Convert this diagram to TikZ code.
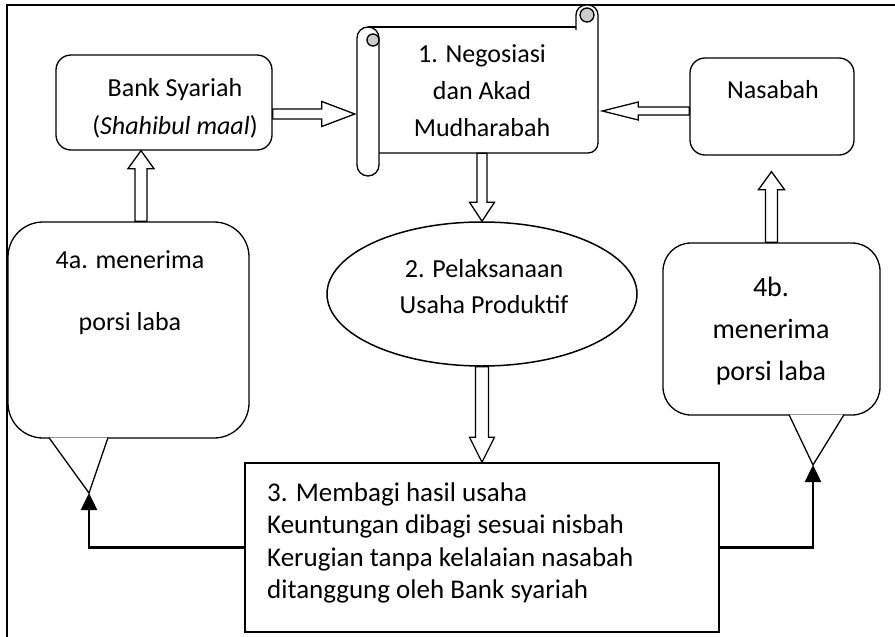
\documentclass[tikz,border=0pt]{standalone}
\usepackage{fontspec}
\setmainfont{Carlito}
\usetikzlibrary{calc,arrows.meta,shapes.geometric}

% hollow block arrow: [shaft half width]{head length}{head half width}{from}{to}
\newcommand{\fatarrow}[5][5pt]{%
  \coordinate (fa-b) at ($(#5)!#2!(#4)$);
  \draw[fatline] ($(#4)!#1!90:(#5)$) -- ($(fa-b)!#1!90:(#5)$) -- ($(fa-b)!#3!90:(#5)$) -- (#5)
    -- ($(fa-b)!#3!-90:(#5)$) -- ($(fa-b)!#1!-90:(#5)$) -- ($(#4)!#1!-90:(#5)$) -- cycle;
}

\begin{document}
\begin{tikzpicture}[x=1pt,y=-1pt,
		shapeline/.style={draw, line width=1.3pt},
		roundbox/.style={shapeline, rectangle, rounded corners=15pt, inner sep=0pt},
		plainbox/.style={shapeline, rectangle, inner sep=0pt},
		callbody/.style={shapeline, rectangle, inner sep=0pt},
		fatline/.style={draw, line width=1.3pt, fill=white, line join=miter},
		conn/.style={draw, line width=2.5pt, -{Triangle[width=16pt,length=17pt]}},
		bigtxt/.style={font=\fontsize{26}{37}\selectfont, align=center, inner sep=0pt}]
	\useasboundingbox (0,0) rectangle (895,637);
	% frame
	\draw[line width=2pt] (7,640) -- (7,5) -- (898,5);

	% scroll
	\draw[shapeline, fill=white, rounded corners=10pt] (576,30) -- (576,5) -- (598,5) -- (598,153) -- (379,153);
	\draw[shapeline] (368,27) -- (576,27);
	\filldraw[shapeline, fill=gray!40] (587,15) circle[radius=7pt];
	\draw[shapeline, fill=white, rounded corners=11pt] (357,27) rectangle (379,176);
	\filldraw[shapeline, fill=gray!40] (373,40) circle[radius=6pt];
	\node[inner sep=0pt, minimum width=241, minimum height=126] (scroll) at (477.5,90) {};
	\node[bigtxt] (scrolltxt) at (482,91) {1. Negosiasi\\dan Akad\\Mudharabah};

	% boxes
	\node[roundbox, minimum width=216, minimum height=95] (bank) at (164,102.5) {};
	\node[bigtxt, font=\fontsize{26}{38}\selectfont] (banktxt) at (175,108) {Bank Syariah\\(\textit{Shahibul maal})};
	\node[roundbox, minimum width=164, minimum height=97] (nasabah) at (772,106.5) {};
	\node[bigtxt] (nasabahtxt) at (773,90) {Nasabah};

	\node[ellipse, shapeline, line width=1.5pt, minimum width=310, minimum height=144] (ell) at (482,294) {};
	\node[bigtxt, font=\fontsize{26}{36}\selectfont] (elltxt) at (484,287) {2. Pelaksanaan\\Usaha Produktif};

	\node[plainbox, line width=1.5pt, minimum width=474, minimum height=169] (membagi) at (482,547.5) {};
	\node[bigtxt, font=\fontsize{27}{32.5}\selectfont, align=left, anchor=north west] (membagitxt) at (267,482.5)
		{3. Membagi hasil usaha\\Keuntungan dibagi sesuai nisbah\\Kerugian tanpa kelalaian nasabah\\ditanggung oleh Bank syariah};

	% callouts
	\node[callbody, rounded corners=35pt, minimum width=241, minimum height=216] (callA) at (128.5,330) {};
	\coordinate (pa1) at ([xshift=-79.5pt]callA.south);
	\coordinate (pa2) at ([xshift=-20.5pt]callA.south);
	\coordinate (tipA) at (89,493);
	\draw[shapeline, fill=white] ([yshift=1pt]pa1) -- (tipA) -- ([yshift=1pt]pa2);
	\node[bigtxt, font=\fontsize{26}{36}\selectfont] (callAtxt) at (130,293) {4a. menerima\\[26pt]porsi laba};

	\node[callbody, rounded corners=28pt, minimum width=217, minimum height=172] (callB) at (771.5,329) {};
	\coordinate (pb1) at ([xshift=17.5pt]callB.south);
	\coordinate (pb2) at ([xshift=72.5pt]callB.south);
	\coordinate (tipB) at (813,465);
	\draw[shapeline, fill=white] ([yshift=1pt]pb1) -- (tipB) -- ([yshift=1pt]pb2);
	\node[bigtxt, font=\fontsize{28}{42}\selectfont] (callBtxt) at (771,331) {4b.\\menerima\\porsi laba};

	% block arrows
	\coordinate (a1s) at ([yshift=-11.5pt]bank.east);
	\coordinate (a1e) at ($(scroll.west |- a1s)+(-2pt,0)$);
	\fatarrow{33pt}{12.5pt}{a1s}{a1e}
	\coordinate (a2s) at ([yshift=-4.5pt]nasabah.west);
	\coordinate (a2e) at ($(scroll.east |- a2s)+(4pt,0)$);
	\fatarrow[4pt]{36pt}{9pt}{a2s}{a2e}
	\coordinate (a3s) at (scroll.south -| ell.north);
	\fatarrow{19pt}{12.5pt}{a3s}{ell.north}
	\fatarrow[6.5pt]{25pt}{12.5pt}{ell.south}{membagi.north}
	\coordinate (a5e) at ($(callB.north |- nasabah.south)+(0,-16pt)$);
	\fatarrow[6pt]{18pt}{13pt}{callB.north}{a5e}
	\coordinate (a6s) at ([xshift=12.5pt]callA.north);
	\coordinate (a6e) at (bank.south -| a6s);
	\fatarrow[6pt]{18pt}{13pt}{a6s}{a6e}

	% connectors
	\draw[conn] (membagi.west) -| (tipA);
	\draw[conn] (membagi.east) -| (tipB);
\end{tikzpicture}
\end{document}
